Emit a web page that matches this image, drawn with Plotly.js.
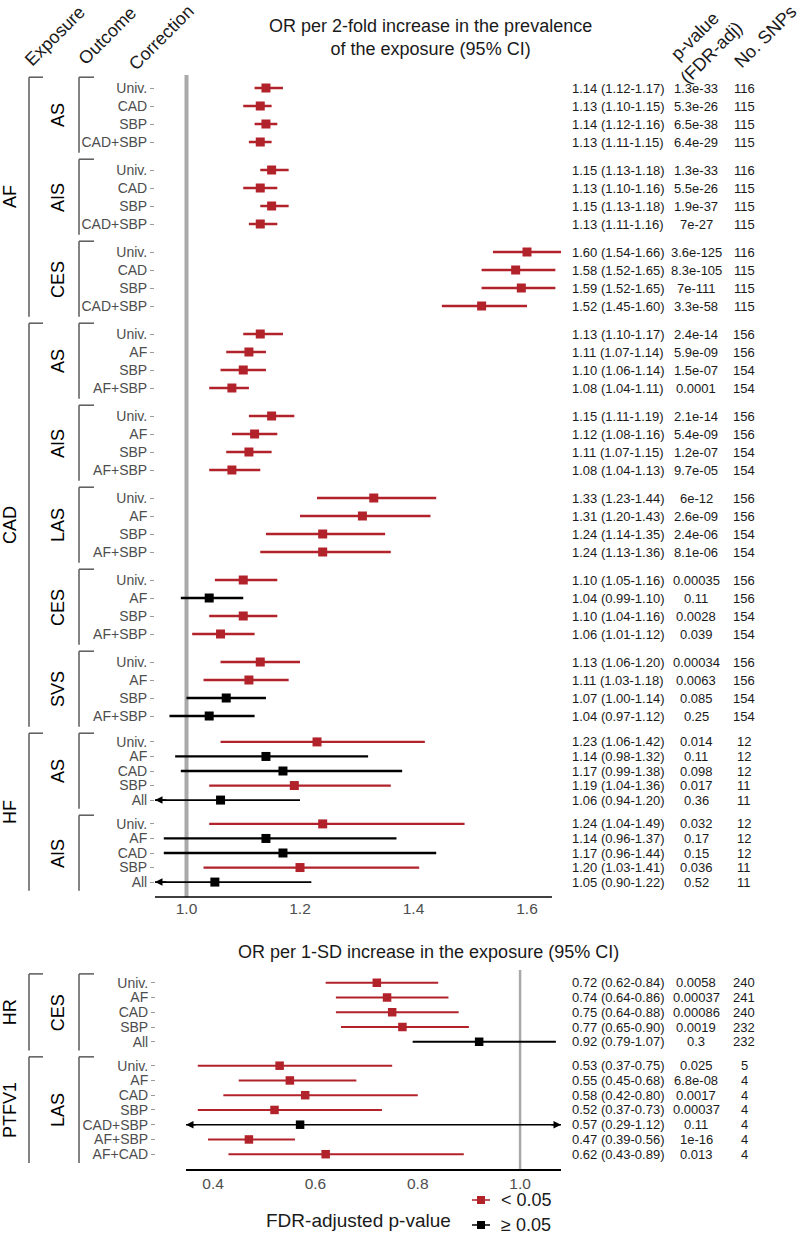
<!DOCTYPE html>
<html><head><meta charset="utf-8">
<script src="https://cdn.plot.ly/plotly-3.0.1.min.js"></script>
<style>body{margin:0;background:#fff}#chart{width:800px;height:1240px}</style>
</head><body><div id="chart"></div>
<script>
// ---------------- DATA: top panel (OR per 2-fold increase in prevalence) ----------------
const topFacetExposure = ['AF','AF','AF','CAD','CAD','CAD','CAD','CAD','HF','HF'];
const topFacetOutcome  = ['AS','AIS','CES','AS','AIS','LAS','CES','SVS','AS','AIS'];
const topFacetRows     = [4,4,4,4,4,4,4,4,5,5];
const topCorrection = ['Univ.','CAD','SBP','CAD+SBP','Univ.','CAD','SBP','CAD+SBP','Univ.','CAD','SBP','CAD+SBP',
  'Univ.','AF','SBP','AF+SBP','Univ.','AF','SBP','AF+SBP','Univ.','AF','SBP','AF+SBP','Univ.','AF','SBP','AF+SBP','Univ.','AF','SBP','AF+SBP',
  'Univ.','AF','CAD','SBP','All','Univ.','AF','CAD','SBP','All'];
const topOR = [1.14,1.13,1.14,1.13, 1.15,1.13,1.15,1.13, 1.60,1.58,1.59,1.52,
  1.13,1.11,1.10,1.08, 1.15,1.12,1.11,1.08, 1.33,1.31,1.24,1.24, 1.10,1.04,1.10,1.06, 1.13,1.11,1.07,1.04,
  1.23,1.14,1.17,1.19,1.06, 1.24,1.14,1.17,1.20,1.05];
const topLo = [1.12,1.10,1.12,1.11, 1.13,1.10,1.13,1.11, 1.54,1.52,1.52,1.45,
  1.10,1.07,1.06,1.04, 1.11,1.08,1.07,1.04, 1.23,1.20,1.14,1.13, 1.05,0.99,1.04,1.01, 1.06,1.03,1.00,0.97,
  1.06,0.98,0.99,1.04,0.94, 1.04,0.96,0.96,1.03,0.90];
const topHi = [1.17,1.15,1.16,1.15, 1.18,1.16,1.18,1.16, 1.66,1.65,1.65,1.60,
  1.17,1.14,1.14,1.11, 1.19,1.16,1.15,1.13, 1.44,1.43,1.35,1.36, 1.16,1.10,1.16,1.12, 1.20,1.18,1.14,1.12,
  1.42,1.32,1.38,1.36,1.20, 1.49,1.37,1.44,1.41,1.22];
const topP = ['1.3e-33','5.3e-26','6.5e-38','6.4e-29','1.3e-33','5.5e-26','1.9e-37','7e-27','3.6e-125','8.3e-105','7e-111','3.3e-58',
  '2.4e-14','5.9e-09','1.5e-07','0.0001','2.1e-14','5.4e-09','1.2e-07','9.7e-05','6e-12','2.6e-09','2.4e-06','8.1e-06',
  '0.00035','0.11','0.0028','0.039','0.00034','0.0063','0.085','0.25',
  '0.014','0.11','0.098','0.017','0.36','0.032','0.17','0.15','0.036','0.52'];
const topSNPs = [116,115,115,115,116,115,115,115,116,115,115,115,
  156,156,154,154,156,156,154,154,156,156,154,154,156,156,154,154,156,156,154,154,
  12,12,12,11,11,12,12,12,11,11];
const topTicks = [1.0,1.2,1.4,1.6];

// ---------------- DATA: bottom panel (OR per 1-SD increase) ----------------
const botFacetExposure = ['HR','PTFV1'];
const botFacetOutcome  = ['CES','LAS'];
const botFacetRows     = [5,7];
const botCorrection = ['Univ.','AF','CAD','SBP','All','Univ.','AF','CAD','SBP','CAD+SBP','AF+SBP','AF+CAD'];
const botOR = [0.72,0.74,0.75,0.77,0.92, 0.53,0.55,0.58,0.52,0.57,0.47,0.62];
const botLo = [0.62,0.64,0.64,0.65,0.79, 0.37,0.45,0.42,0.37,0.29,0.39,0.43];
const botHi = [0.84,0.86,0.88,0.90,1.07, 0.75,0.68,0.80,0.73,1.12,0.56,0.89];
const botP  = ['0.0058','0.00037','0.00086','0.0019','0.3','0.025','6.8e-08','0.0017','0.00037','0.11','1e-16','0.013'];
const botSNPs = [240,241,240,232,232,5,4,4,4,4,4,4];
const botTicks = [0.4,0.6,0.8,1.0];

// ---------------- STYLE / LAYOUT ----------------
const W = 800, H = 1240;
const PX = v => v / W, PY = v => 1 - v / H;
const FONT = 'Liberation Sans, Arial, Helvetica, sans-serif';
const RED = '#b2222a', BLACK = '#000000', GREY_TXT = '#4d4d4d', BR = '#5a5a5a';
const TOP_AXIS = [0.9445, 1.644], TOP_RANGE = [0.9445, 1.70], TOP_ARROW = [0.9445, 1.70];
const BOT_RANGE = [0.347, 1.08], BOT_ARROW = [0.347, 1.08];
const TOP_PX_PER_UNIT = 567.5;

function geomFixed(rows, top0, period, h) {
  return rows.map((n, k) => { const t = top0 + k * period; const s = h / (n + 0.2);
    return {top: t, bottom: t + h, ys: Array.from({length: n}, (_, i) => t + (0.6 + i) * s)}; });
}
function geomFree(rows, top0, s, gap) {
  let t = top0; return rows.map(n => { const h = (n + 0.2) * s; const g = {top: t, bottom: t + h, ys: Array.from({length: n}, (_, i) => t + (0.6 + i) * s)}; t += h + gap; return g; });
}
const topGeom = geomFixed(topFacetRows, 77.2, 82.0, 75.6);
const botGeom = geomFree(botFacetRows, 973.9, 14.75, 6.25);
const topY = topGeom.flatMap(g => g.ys), botY = botGeom.flatMap(g => g.ys);

const traces = [], shapes = [], annotations = [];

function panel(xa, ya, OR, lo, hi, P, N, Y, lim, msize, thick) {
  const groups = {};
  OR.forEach((v, i) => {
    const sig = parseFloat(P[i]) < 0.05;
    const clipped = lo[i] < lim[0] || hi[i] > lim[1];
    const key = (sig ? 'r' : 'k') + (clipped ? 'c' : '');
    const g = (groups[key] = groups[key] || {x: [], y: [], p: [], m: [], sig, clipped});
    g.x.push(v); g.y.push(Y[i]);
    g.p.push(Math.min(hi[i], lim[1]) - v); g.m.push(v - Math.max(lo[i], lim[0]));
    const col = sig ? RED : BLACK;
    const d = 0.03 * (lim[1] - lim[0]);
    if (lo[i] < lim[0]) annotations.push({xref: xa, yref: ya, x: lim[0], y: Y[i], axref: xa, ayref: ya,
      ax: lim[0] + d, ay: Y[i], text: '', showarrow: true, arrowhead: 2, arrowsize: 1, arrowwidth: 1.5, arrowcolor: col, standoff: 0});
    if (hi[i] > lim[1]) annotations.push({xref: xa, yref: ya, x: lim[1], y: Y[i], axref: xa, ayref: ya,
      ax: lim[1] - d, ay: Y[i], text: '', showarrow: true, arrowhead: 2, arrowsize: 1, arrowwidth: 1.5, arrowcolor: col, standoff: 0});
    const tf = {family: FONT, size: 13, color: '#1a1a1a'};
    annotations.push({xref: 'paper', yref: ya, x: PX(570), y: Y[i], xanchor: 'left', yanchor: 'middle', showarrow: false,
      text: v.toFixed(2) + ' (' + lo[i].toFixed(2) + '-' + hi[i].toFixed(2) + ')', font: tf});
    annotations.push({xref: 'paper', yref: ya, x: PX(696), y: Y[i], xanchor: 'center', yanchor: 'middle', showarrow: false, text: P[i], font: tf});
    annotations.push({xref: 'paper', yref: ya, x: PX(744), y: Y[i], xanchor: 'center', yanchor: 'middle', showarrow: false, text: String(N[i]), font: tf});
  });
  Object.values(groups).forEach(g => {
    const col = g.sig ? RED : BLACK;
    traces.push({type: 'scatter', mode: 'markers', xaxis: xa, yaxis: ya, x: g.x, y: g.y, hoverinfo: 'skip', showlegend: false,
      marker: {symbol: 'square', size: msize, color: col},
      error_x: {type: 'data', symmetric: false, array: g.p, arrayminus: g.m, color: col, thickness: g.clipped ? 1.6 : thick, width: 0}});
  });
}
panel('x', 'y', topOR, topLo, topHi, topP, topSNPs, topY, TOP_ARROW, 9, 2.3);
panel('x2', 'y2', botOR, botLo, botHi, botP, botSNPs, botY, BOT_ARROW, 8.5, 2.1);

shapes.push({type: 'line', layer: 'below', xref: 'x', yref: 'paper', x0: 1, x1: 1, y0: PY(897), y1: PY(75), line: {color: '#a9a9a9', width: 4}});
shapes.push({type: 'line', layer: 'below', xref: 'x2', yref: 'paper', x0: 1, x1: 1, y0: PY(1169), y1: PY(970), line: {color: '#a9a9a9', width: 2.5}});
shapes.push({type: 'line', xref: 'x', yref: 'paper', x0: TOP_AXIS[0], x1: TOP_AXIS[1], y0: PY(897), y1: PY(897), line: {color: '#000', width: 1.5}});

function brackets(ya, geom, facetExp, facetOut) {
  const ln = {color: BR, width: 1.5};
  geom.forEach((g, k) => {
    shapes.push({type: 'line', xref: 'paper', yref: ya, x0: PX(79), x1: PX(79), y0: g.top, y1: g.bottom, line: ln});
    shapes.push({type: 'line', xref: 'paper', yref: ya, x0: PX(79), x1: PX(94), y0: g.top, y1: g.top, line: ln});
    annotations.push({xref: 'paper', yref: ya, x: PX(58), y: (g.top + g.bottom) / 2, textangle: -90, showarrow: false,
      xanchor: 'center', yanchor: 'middle', text: facetOut[k], font: {family: FONT, size: 18, color: '#000'}});
  });
  [...new Set(facetExp)].forEach(e => {
    const idx = facetExp.map((v, i) => v === e ? i : -1).filter(i => i >= 0);
    const t = geom[idx[0]].top, b = geom[idx[idx.length - 1]].bottom;
    shapes.push({type: 'line', xref: 'paper', yref: ya, x0: PX(29), x1: PX(29), y0: t, y1: b, line: ln});
    shapes.push({type: 'line', xref: 'paper', yref: ya, x0: PX(29), x1: PX(43), y0: t, y1: t, line: ln});
    annotations.push({xref: 'paper', yref: ya, x: PX(10), y: (t + b) / 2, textangle: -90, showarrow: false,
      xanchor: 'center', yanchor: 'middle', text: e, font: {family: FONT, size: 18, color: '#000'}});
  });
}
brackets('y', topGeom, topFacetExposure, topFacetOutcome);
brackets('y2', botGeom, botFacetExposure, botFacetOutcome);

const hfont = {family: FONT, size: 18, color: '#1a1a1a'};
annotations.push({xref: 'paper', yref: 'paper', x: PX(430), y: PY(38), showarrow: false, xanchor: 'center', yanchor: 'middle',
  text: 'OR per 2-fold increase in the prevalence<br>of the exposure (95% CI)', font: {family: FONT, size: 18, color: '#1a1a1a'}});
annotations.push({xref: 'paper', yref: 'paper', x: PX(428), y: PY(952), showarrow: false, xanchor: 'center', yanchor: 'middle',
  text: 'OR per 1-SD increase in the exposure (95% CI)', font: {family: FONT, size: 18, color: '#1a1a1a'}});
[['Exposure', 55, 36], ['Outcome', 107, 36], ['Correction', 161, 38], ['p-value<br>(FDR-adj)', 703, 45], ['No. SNPs', 765, 37]].forEach(h => {
  annotations.push({xref: 'paper', yref: 'paper', x: PX(h[1]), y: PY(h[2]), showarrow: false, textangle: -45,
    xanchor: 'center', yanchor: 'middle', text: h[0], font: hfont});
});

annotations.push({xref: 'paper', yref: 'paper', x: PX(358), y: PY(1220), showarrow: false, xanchor: 'center', yanchor: 'middle',
  text: 'FDR-adjusted p-value', font: {family: FONT, size: 19, color: '#1a1a1a'}});
[[RED, 1200, '< 0.05'], [BLACK, 1225, '\u2265 0.05']].forEach(l => {
  shapes.push({type: 'line', xref: 'paper', yref: 'paper', x0: PX(472), x1: PX(490), y0: PY(l[1]), y1: PY(l[1]), line: {color: l[0], width: 1.5}});
  shapes.push({type: 'rect', xref: 'paper', yref: 'paper', x0: PX(477), x1: PX(485), y0: PY(l[1] + 4), y1: PY(l[1] - 4), fillcolor: l[0], line: {width: 0}});
  annotations.push({xref: 'paper', yref: 'paper', x: PX(500), y: PY(l[1]), showarrow: false, xanchor: 'left', yanchor: 'middle',
    borderpad: 0, text: l[2], font: {family: FONT, size: 18, color: '#1a1a1a'}});
});

const yCommon = {showgrid: false, zeroline: false, showline: false, ticks: 'outside', ticklen: 4, tickcolor: '#9a9a9a', tickwidth: 1,
  tickfont: {family: FONT, size: 14, color: GREY_TXT}};
const xCommon = {showgrid: false, zeroline: false, linecolor: '#000', linewidth: 1.5, ticks: '',
  tickfont: {family: FONT, size: 15.5, color: GREY_TXT}, tickformat: '.1f'};

const layout = {
  width: W, height: H, margin: {l: 0, r: 0, t: 0, b: 0}, paper_bgcolor: '#fff', plot_bgcolor: 'rgba(0,0,0,0)',
  showlegend: false, hovermode: false, font: {family: FONT},
  xaxis: Object.assign({}, xCommon, {showline: false, domain: [PX(155), PX(155 + (TOP_RANGE[1] - TOP_RANGE[0]) * TOP_PX_PER_UNIT)],
    range: TOP_RANGE, tickvals: topTicks, anchor: 'y'}),
  yaxis: Object.assign({}, yCommon, {domain: [PY(897), PY(75)], range: [897, 75], tickvals: topY, ticktext: topCorrection, anchor: 'x'}),
  xaxis2: Object.assign({}, xCommon, {showline: true, domain: [PX(186), PX(561)], range: BOT_RANGE, tickvals: botTicks, anchor: 'y2'}),
  yaxis2: Object.assign({}, yCommon, {domain: [PY(1169), PY(970)], range: [1169, 970], tickvals: botY, ticktext: botCorrection, anchor: 'free', position: PX(155)}),
  shapes, annotations
};
Plotly.newPlot('chart', traces, layout, {staticPlot: true, displayModeBar: false});
</script></body></html>
